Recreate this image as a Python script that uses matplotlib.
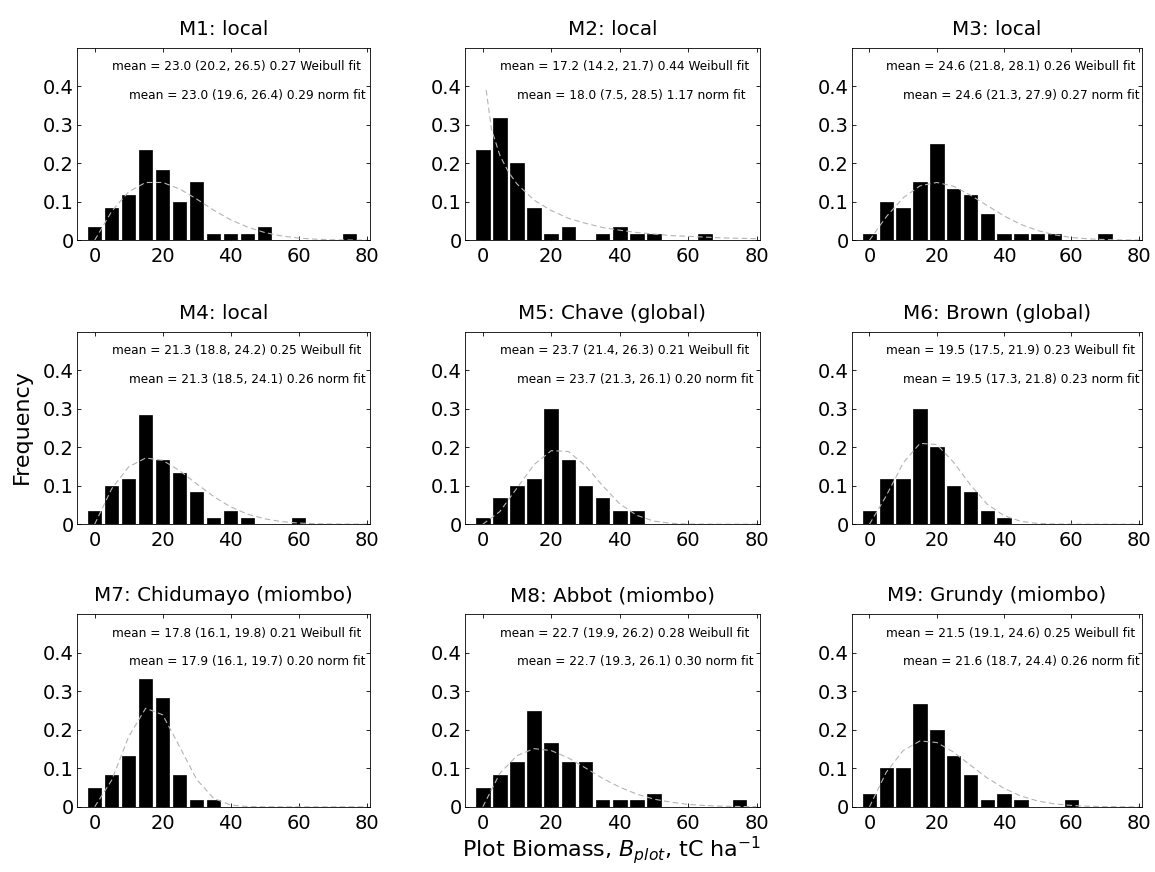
import matplotlib
matplotlib.use('Agg')
import matplotlib.pyplot as plt
import numpy as np

plt.rcParams['font.family'] = ['DejaVu Sans']
plt.rcParams['mathtext.fontset'] = 'dejavusans'

# ---------------- data ----------------
titles = ['M1: local', 'M2: local', 'M3: local',
          'M4: local', 'M5: Chave (global)', 'M6: Brown (global)',
          'M7: Chidumayo (miombo)', 'M8: Abbot (miombo)', 'M9: Grundy (miombo)']

bin_centers = [0, 5, 10, 15, 20, 25, 30, 35, 40, 45, 50, 55, 60, 65, 70, 75]

freq_m1 = [0.033, 0.083, 0.117, 0.233, 0.183, 0.100, 0.150, 0.017, 0.017, 0.017, 0.033, 0, 0, 0, 0, 0.017]
freq_m2 = [0.233, 0.317, 0.200, 0.083, 0.017, 0.033, 0, 0.017, 0.033, 0.017, 0.017, 0, 0, 0.017, 0, 0]
freq_m3 = [0.017, 0.100, 0.083, 0.150, 0.250, 0.133, 0.117, 0.067, 0.017, 0.017, 0.017, 0.017, 0, 0, 0.017, 0]
freq_m4 = [0.033, 0.100, 0.117, 0.283, 0.167, 0.133, 0.083, 0.017, 0.033, 0.017, 0, 0, 0.017, 0, 0, 0]
freq_m5 = [0.017, 0.067, 0.100, 0.117, 0.300, 0.167, 0.100, 0.067, 0.033, 0.033, 0, 0, 0, 0, 0, 0]
freq_m6 = [0.033, 0.117, 0.117, 0.300, 0.200, 0.100, 0.083, 0.033, 0.017, 0, 0, 0, 0, 0, 0, 0]
freq_m7 = [0.050, 0.083, 0.133, 0.333, 0.283, 0.083, 0.017, 0.017, 0, 0, 0, 0, 0, 0, 0, 0]
freq_m8 = [0.050, 0.083, 0.117, 0.250, 0.167, 0.117, 0.117, 0.017, 0.017, 0.017, 0.033, 0, 0, 0, 0, 0.017]
freq_m9 = [0.033, 0.100, 0.100, 0.267, 0.200, 0.133, 0.083, 0.017, 0.033, 0.017, 0, 0, 0.017, 0, 0, 0]

# fitted curves
curve_x = [0, 5, 10, 15, 20, 25, 30, 35, 40, 45, 50, 55, 60, 65, 70, 75, 80]
curve_x_m2 = [1, 2.5, 5, 7.5, 10, 15, 20, 25, 30, 35, 40, 45, 50, 55, 60, 65, 70, 75, 80]

fit_m1 = [0, 0.075, 0.126, 0.150, 0.150, 0.133, 0.107, 0.078, 0.053, 0.034, 0.020, 0.011, 0.0055, 0.0026, 0.0011, 0.0005, 0.0002]
fit_m2 = [0.39, 0.29, 0.22, 0.177, 0.146, 0.104, 0.077, 0.057, 0.044, 0.033, 0.026, 0.020, 0.016, 0.012, 0.010, 0.008, 0.006, 0.005, 0.004]
fit_m3 = [0, 0.061, 0.110, 0.141, 0.150, 0.140, 0.117, 0.090, 0.063, 0.041, 0.025, 0.014, 0.007, 0.0035, 0.0016, 0.0007, 0.0003]
fit_m4 = [0, 0.092, 0.149, 0.172, 0.166, 0.139, 0.105, 0.072, 0.045, 0.026, 0.014, 0.0067, 0.003, 0.0013, 0.0005, 0.0002, 0.0001]
fit_m5 = [0, 0.033, 0.094, 0.155, 0.191, 0.189, 0.152, 0.100, 0.053, 0.023, 0.008, 0.0022, 0.0005, 0.0001, 0, 0, 0]
fit_m6 = [0, 0.074, 0.159, 0.210, 0.207, 0.161, 0.102, 0.052, 0.022, 0.0074, 0.002, 0.0005, 0.0001, 0, 0, 0, 0]
fit_m7 = [0, 0.069, 0.182, 0.256, 0.239, 0.156, 0.071, 0.022, 0.0046, 0.0006, 0, 0, 0, 0, 0, 0, 0]
fit_m8 = [0, 0.087, 0.133, 0.151, 0.146, 0.127, 0.101, 0.074, 0.051, 0.033, 0.020, 0.012, 0.0063, 0.0033, 0.0016, 0.0008, 0.0003]
fit_m9 = [0, 0.090, 0.146, 0.171, 0.167, 0.142, 0.108, 0.075, 0.048, 0.028, 0.015, 0.0075, 0.0035, 0.0015, 0.0006, 0.0002, 0.0001]

# statistics text: (mean, lower, upper, cv)
weibull_stats = [(23.0, 20.2, 26.5, 0.27), (17.2, 14.2, 21.7, 0.44), (24.6, 21.8, 28.1, 0.26),
                 (21.3, 18.8, 24.2, 0.25), (23.7, 21.4, 26.3, 0.21), (19.5, 17.5, 21.9, 0.23),
                 (17.8, 16.1, 19.8, 0.21), (22.7, 19.9, 26.2, 0.28), (21.5, 19.1, 24.6, 0.25)]
norm_stats = [(23.0, 19.6, 26.4, 0.29), (18.0, 7.5, 28.5, 1.17), (24.6, 21.3, 27.9, 0.27),
              (21.3, 18.5, 24.1, 0.26), (23.7, 21.3, 26.1, 0.20), (19.5, 17.3, 21.8, 0.23),
              (17.9, 16.1, 19.7, 0.20), (22.7, 19.3, 26.1, 0.30), (21.6, 18.7, 24.4, 0.26)]

x_ticks = [0, 20, 40, 60, 80]
y_ticks = [0, 0.1, 0.2, 0.3, 0.4]
y_tick_labels = ['0', '0.1', '0.2', '0.3', '0.4']

freqs = [freq_m1, freq_m2, freq_m3, freq_m4, freq_m5, freq_m6, freq_m7, freq_m8, freq_m9]
fits = [fit_m1, fit_m2, fit_m3, fit_m4, fit_m5, fit_m6, fit_m7, fit_m8, fit_m9]
fit_xs = [curve_x, curve_x_m2] + [curve_x] * 7

# ---------------- layout ----------------
W, H = 1155, 872
fig = plt.figure(figsize=(W / 100, H / 100), dpi=100)

col_left = [77, 465, 852]
col_width = [293, 295, 290]
row_top = [47.7, 331.7, 614.3]
row_height = 192.5

for i in range(9):
    r, c = divmod(i, 3)
    ax = fig.add_axes([col_left[c] / W, 1 - (row_top[r] + row_height) / H,
                       col_width[c] / W, row_height / H])
    f = np.array(freqs[i])
    bc = np.array(bin_centers)
    m = f > 0
    ax.bar(bc[m], f[m], width=4, color='black', edgecolor='black', linewidth=0.5, zorder=2)
    ax.plot(fit_xs[i], fits[i], linestyle=(0, (5, 3)), color='#b4b4b4', linewidth=0.8, zorder=3)
    ax.set_xlim(-5.2, 81)
    ax.set_ylim(0, 0.5)
    ax.set_xticks(x_ticks)
    ax.set_yticks(y_ticks)
    ax.set_yticklabels(y_tick_labels)
    ax.tick_params(axis='both', direction='in', length=3, width=0.6, top=True, right=True,
                   labelsize=14)
    ax.tick_params(axis='x', pad=5)
    ax.tick_params(axis='y', pad=2.5)
    for s in ax.spines.values():
        s.set_linewidth(0.6)
    ax.set_title(titles[i], fontsize=14.3, pad=9.5)
    ws = weibull_stats[i]
    ns = norm_stats[i]
    ax.text(5, 0.45, 'mean = %.1f (%.1f, %.1f) %.2f Weibull fit' % ws,
            fontsize=8.7, ha='left', va='center')
    ax.text(10, 0.377, 'mean = %.1f (%.1f, %.1f) %.2f norm fit' % ns,
            fontsize=8.7, ha='left', va='center')

fig.text(22 / W, 1 - 427 / H, 'Frequency', rotation=90, fontsize=16,
         ha='center', va='center')
fig.text(612 / W, 1 - 857 / H, r'Plot Biomass, $B_{plot}$, tC ha$^{-1}$',
         fontsize=16, ha='center', va='baseline')

fig.savefig('out.png', dpi=100)
